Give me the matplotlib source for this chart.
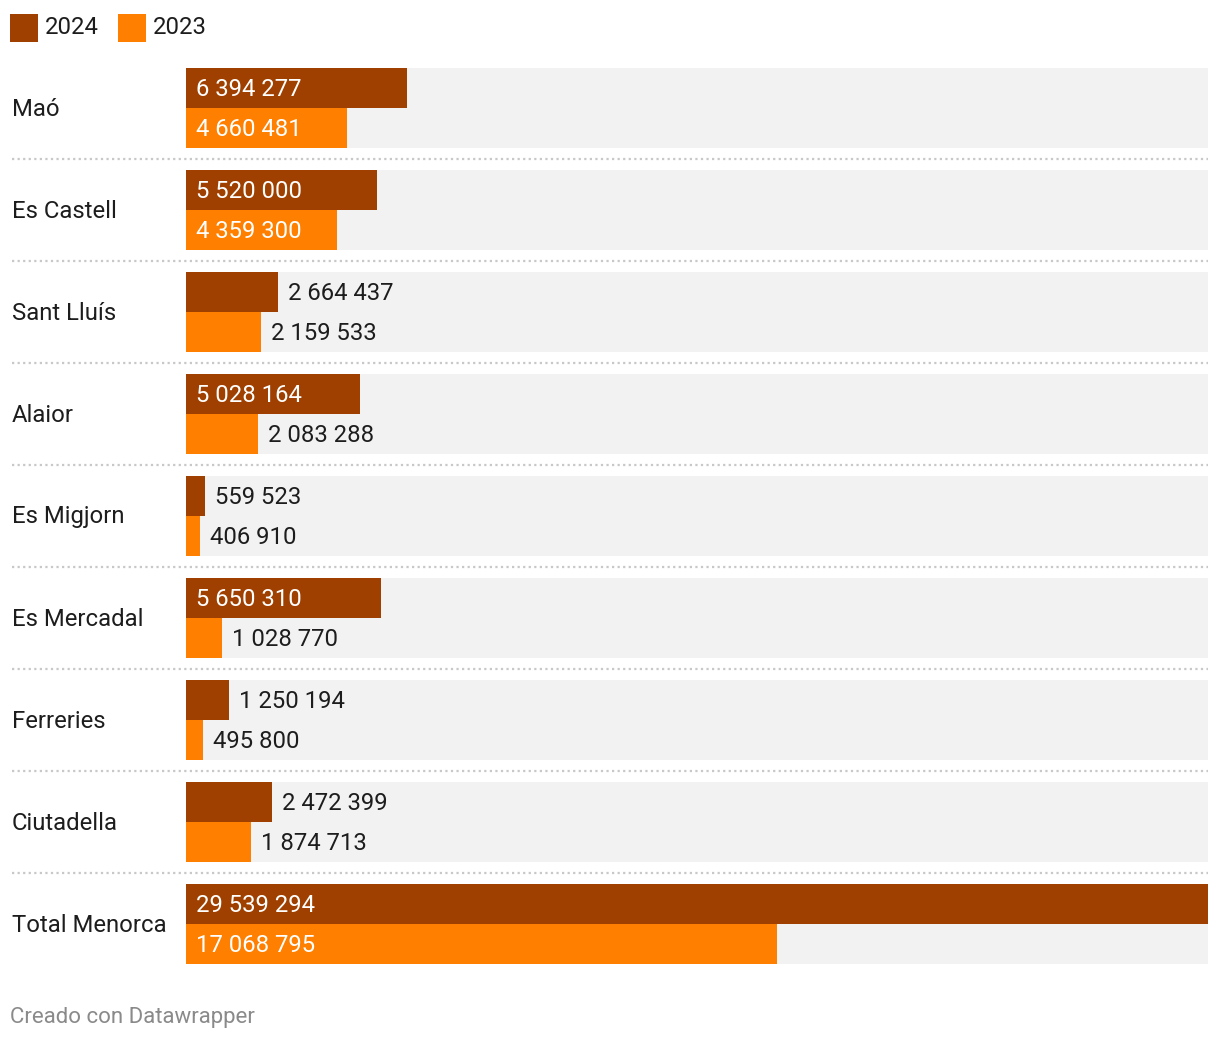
import matplotlib
matplotlib.use("Agg")
import matplotlib.pyplot as plt
from matplotlib.transforms import offset_copy
from matplotlib.patches import Rectangle

categories = ["Maó", "Es Castell", "Sant Lluís", "Alaior", "Es Migjorn",
              "Es Mercadal", "Ferreries", "Ciutadella", "Total Menorca"]
values_2024 = [6394277, 5520000, 2664437, 5028164, 559523,
               5650310, 1250194, 2472399, 29539294]
values_2023 = [4660481, 4359300, 2159533, 2083288, 406910,
               1028770, 495800, 1874713, 17068795]
series_labels = ["2024", "2023"]
colors = ["#a04000", "#ff7f00"]

W, H = 1220, 1042
plt.rcParams['font.family'] = ['Roboto', 'DejaVu Sans']
fig = plt.figure(figsize=(W / 100, H / 100), dpi=100)
fig.patch.set_facecolor("white")

X0, X1 = 186, 1208
Y0, Y1 = 68, 964
PITCH = 102
BAR_H = 40
vmax = max(values_2024 + values_2023)

ax = fig.add_axes([X0 / W, 1 - Y1 / H, (X1 - X0) / W, (Y1 - Y0) / H])
ax.set_xlim(0, vmax)
ax.set_ylim(Y1, Y0)
ax.axis("off")

ov = fig.add_axes([0, 0, 1, 1], zorder=-1)
ov.set_xlim(0, W)
ov.set_ylim(H, 0)
ov.axis("off")

fs = 17.2
txt_dark = "#1d1d1d"
renderer = fig.canvas.get_renderer()
off_in = offset_copy(ax.transData, fig=fig, x=10, y=0, units='dots')

for i, cat in enumerate(categories):
    top = Y0 + PITCH * i
    ax.barh(top + BAR_H, vmax, height=2 * BAR_H, left=0, color="#f2f2f2",
            edgecolor="none", zorder=0)
    for j, vals in enumerate([values_2024, values_2023]):
        v = vals[i]
        yc = top + BAR_H / 2 + j * BAR_H
        ax.barh(yc, v, height=BAR_H, color=colors[j], edgecolor="none", zorder=1)
        lbl = f"{v:,}".replace(",", " ")
        t = ax.text(0, yc + 1, lbl, transform=off_in, ha="left", va="center",
                    color="white", fontsize=fs, zorder=3)
        tw = t.get_window_extent(renderer).width
        bw = v / vmax * (X1 - X0)
        if bw < tw + 20:
            t.set_transform(offset_copy(ax.transData, fig=fig, x=bw + 10, y=0, units='dots'))
            t.set_color(txt_dark)
    ov.text(12, top + BAR_H + 1, cat, ha="left", va="center", fontsize=fs,
            color=txt_dark)
    if i < len(categories) - 1:
        ysep = top + 91
        ov.plot([12, X1], [ysep, ysep], color="#c8c8c8", lw=1.6,
                linestyle=(0, (1, 1.5)), solid_capstyle="butt")

lx = 10
for j, s in enumerate(series_labels):
    ov.add_patch(Rectangle((lx, 14), 28, 28, color=colors[j], lw=0))
    ov.text(lx + 35, 27, s, ha="left", va="center", fontsize=fs, color=txt_dark)
    lx = 118

ov.text(10, 1017, "Creado con Datawrapper", ha="left", va="center",
        fontsize=16, color="#8a8a8a")

fig.savefig("out.png", dpi=100, facecolor="white")
